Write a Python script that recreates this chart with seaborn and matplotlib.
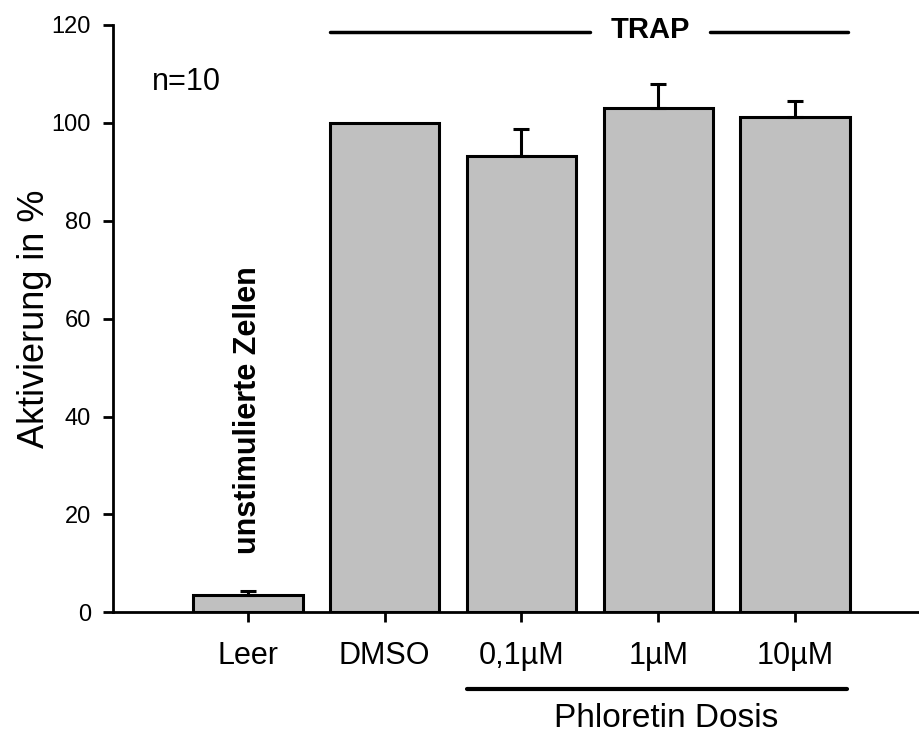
import matplotlib
matplotlib.use("Agg")
import matplotlib.pyplot as plt
import seaborn as sns
import pandas as pd
import numpy as np

categories = ["Leer", "DMSO", "0,1µM", "1µM", "10µM"]
values = [3.6, 100.0, 93.2, 103.1, 101.2]
errors = [0.8, np.nan, 5.6, 4.8, 3.3]
y_ticks = [0, 20, 40, 60, 80, 100, 120]

sns.set_theme(style="ticks")
plt.rcParams["font.family"] = ["Liberation Sans", "DejaVu Sans"]
plt.rcParams["text.color"] = "black"
plt.rcParams["axes.labelcolor"] = "black"
plt.rcParams["xtick.color"] = "black"
plt.rcParams["ytick.color"] = "black"

df = pd.DataFrame({"Gruppe": categories, "Aktivierung": values})

fig = plt.figure(figsize=(9.19, 7.35), dpi=100)
ax = fig.add_axes([0.123, 0.167, 0.877, 0.799])

sns.barplot(data=df, x="Gruppe", y="Aktivierung", order=categories,
            color="#c0c0c0", saturation=1, edgecolor="black", linewidth=2.2,
            width=0.8, errorbar=None, ax=ax)

x = np.arange(len(categories))
err = np.array(errors)
mask = ~np.isnan(err)
ax.errorbar(x[mask], np.array(values)[mask],
            yerr=[np.zeros(mask.sum()), err[mask]],
            fmt="none", ecolor="black", elinewidth=2.2, capsize=5.5, capthick=2.2,
            zorder=1)

ax.set_xlim(-0.987, 4.907)
ax.set_ylim(0, 120)
ax.set_yticks(y_ticks)
ax.set_xlabel("")
ax.set_ylabel("Aktivierung in %", fontsize=26, color="black")
ax.yaxis.set_label_coords(-0.097, 0.5)
ax.yaxis.label.set_va("center")

sns.despine(ax=ax, top=True, right=True)
for s in ["left", "bottom"]:
    ax.spines[s].set_linewidth(2)
    ax.spines[s].set_color("black")

ax.tick_params(axis="x", direction="out", length=7, width=2, pad=14,
               labelsize=22, colors="black")
ax.tick_params(axis="y", direction="out", length=7, width=2, pad=9,
               labelsize=17, colors="black")

# annotations
ax.text(-0.70, 108.3, "n=10", fontsize=22, ha="left", va="center", color="black")
ax.text(0.0, 41.3, "unstimulierte Zellen", fontsize=22, fontweight="bold",
        rotation=90, ha="center", va="center", color="black")

ax.plot([0.6, 2.50], [118.6, 118.6], color="black", lw=2.5, clip_on=False)
ax.plot([3.38, 4.39], [118.6, 118.6], color="black", lw=2.5, clip_on=False)
ax.text(2.94, 119.0, "TRAP", fontsize=21, fontweight="bold",
        ha="center", va="center", clip_on=False, color="black")

ax.plot([1.6, 4.38], [-15.7, -15.7], color="black", lw=3, clip_on=False)
ax.text(3.06, -21.8, "Phloretin Dosis", fontsize=24,
        ha="center", va="center", clip_on=False, color="black")

fig.savefig("out.png", dpi=100)
